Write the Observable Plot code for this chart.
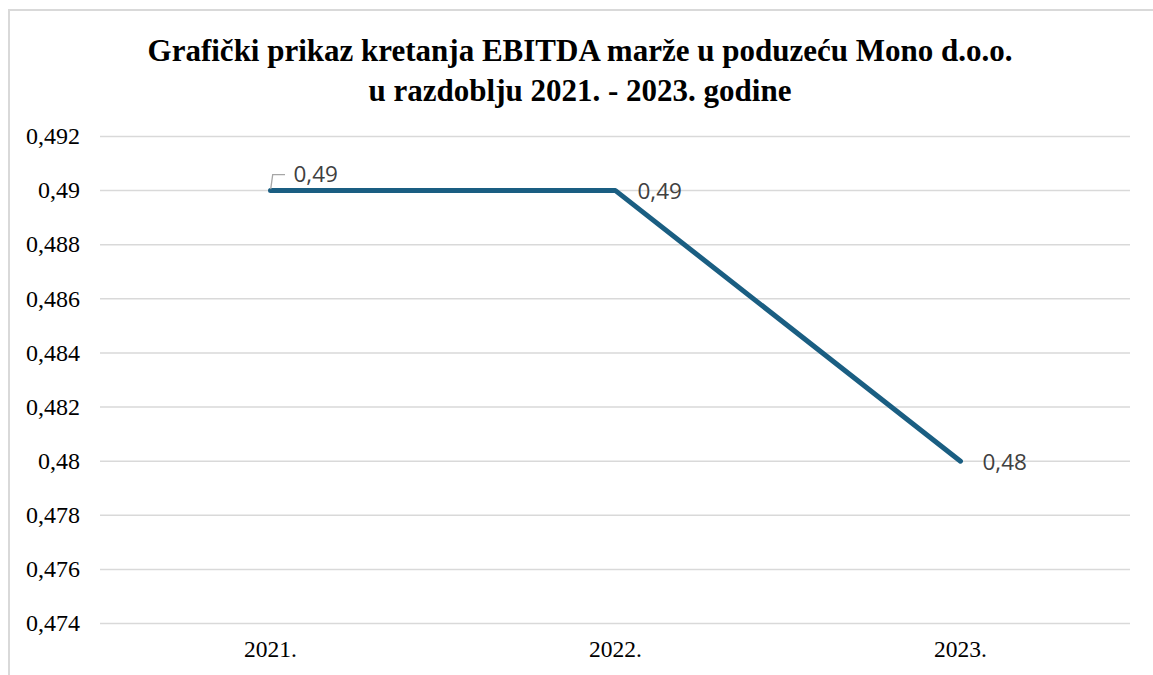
<!DOCTYPE html>
<html>
<head>
<meta charset="utf-8">
<script src="https://cdn.jsdelivr.net/npm/d3@7"></script>
<script src="https://cdn.jsdelivr.net/npm/@observablehq/plot@0.6"></script>
<style>
  html, body { margin: 0; padding: 0; background: #fff; }
  #wrap { position: relative; width: 1153px; height: 675px; overflow: hidden; background: #fff; }
  #frame { position: absolute; left: 8px; top: 9px; right: -10px; bottom: -10px; border-left: 2px solid #d9d9d9; border-top: 2px solid #d9d9d9; }
  #title { position: absolute; left: 0; width: 1160px; top: 31px; text-align: center; font-family: "Liberation Serif", "Times New Roman", serif; font-weight: bold; font-size: 31px; line-height: 40px; color: #000; }
  #chart { position: absolute; left: 0; top: 0; }
</style>
</head>
<body>
<div id="wrap">
  <div id="frame"></div>
  <div id="title">Grafički prikaz kretanja EBITDA marže u poduzeću Mono d.o.o.<br>u razdoblju 2021. - 2023. godine</div>
  <div id="chart"></div>
</div>
<script>
const years = ["2021.", "2022.", "2023."];
const margins = [0.49, 0.49, 0.48];
const yTicks = [0.474, 0.476, 0.478, 0.48, 0.482, 0.484, 0.486, 0.488, 0.49, 0.492];
const labelOffsets = [[23, -16], [22, 1], [22, 2]];

const data = years.map((y, i) => ({year: y, value: margins[i], dx: labelOffsets[i][0], dy: labelOffsets[i][1]}));
const fmt = v => String(+v.toFixed(3)).replace(".", ",");
const serif = "Liberation Serif, Times New Roman, serif";

// leader line for first label, relative to the scaled data point
function leader(index, scales) {
  const px = scales.x(data[0].year), py = scales.y(data[0].value);
  const g = d3.create("svg:g");
  g.append("path")
    .attr("d", `M${px + 0.7},${py - 1}L${px + 2.7},${py - 15.5}L${px + 15},${py - 15.5}`)
    .attr("fill", "none").attr("stroke", "#a6a6a6").attr("stroke-width", 1.3);
  return g.node();
}

const chart = Plot.plot({
  width: 1153,
  height: 675,
  marginTop: 136,
  marginBottom: 52,
  marginLeft: 97.5,
  marginRight: 20.5,
  style: {background: "transparent", overflow: "visible"},
  x: {type: "point", domain: years, padding: 0.5, axis: null},
  y: {domain: [0.474, 0.492], axis: null},
  marks: [
    Plot.ruleY(yTicks, {stroke: "#d9d9d9", strokeWidth: 1.5, insetLeft: 2.5, insetRight: 2.5}),
    Plot.text(yTicks, {y: d => d, text: fmt, frameAnchor: "left", textAnchor: "end", dx: -18, fontSize: 24, fontFamily: serif, fill: "#000"}),
    Plot.text(years, {x: d => d, text: d => d, frameAnchor: "bottom", lineAnchor: "top", dy: 17, fontSize: 23.5, fontFamily: serif, fill: "#000"}),
    Plot.line(data, {x: "year", y: "value", stroke: "#1a5e82", strokeWidth: 5, strokeLinecap: "round", strokeLinejoin: "miter"}),
    leader,
    ...data.map(d => Plot.text([d], {x: "year", y: "value", text: v => fmt(v.value), dx: d.dx, dy: d.dy, textAnchor: "start", fontSize: 22.5, fontFamily: "Open Sans, sans-serif", fill: "#404040"}))
  ]
});
document.getElementById("chart").appendChild(chart);
</script>
</body>
</html>
